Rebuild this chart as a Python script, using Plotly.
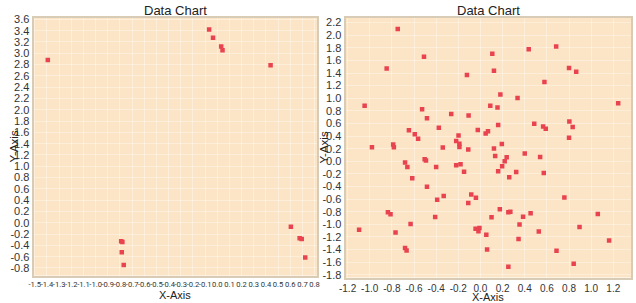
import plotly.graph_objects as go

# Left chart data
left_x = [-1.393, -0.067, -0.035, 0.032, 0.043, 0.438,
          -0.79, -0.78, -0.785, -0.769, 0.605, 0.677, 0.694, 0.723]
left_y = [2.879, 3.419, 3.276, 3.121, 3.052, 2.787,
          -0.328, -0.34, -0.523, -0.747, -0.069, -0.276, -0.287, -0.615]

# Right chart data
right_x = [-0.747, -0.847, -0.51, -1.046, -0.98, -0.788, -0.782, -0.527, -0.483, -0.646,
           -0.593, -0.563, -0.376, -0.34, -0.264, -0.219, -0.198, -0.19, -0.19, -0.11,
           -0.122, -0.107, -0.024, 0.047, 0.068, 0.089, 0.107, 0.122, 0.122, 0.154,
           0.16, 0.18, 0.193, 0.335, 0.436, 0.486, 0.566, 0.59, 0.578, 0.684,
           0.80, 0.865, 0.803, 0.833, 0.80, 1.244,
           0.133, 0.237, 0.40, 0.539, -0.681, -0.66, -0.616, -0.504, -0.492, -0.40,
           -0.483, -0.332, -0.391, -0.219, -0.18, -0.148, -0.083, -0.041, -0.11, 0.219,
           0.196, 0.16, 0.26, 0.323, 0.572, 0.758, 0.175, 0.252, 0.27, 0.10,
           0.353, 0.385, 0.453, -0.836, -0.812, -0.409, -1.096, -0.767, -0.631, -0.044,
           -0.009, -0.018, 0.053, 0.06, -0.681, -0.667, 0.252, 0.344, 0.527, 0.687,
           0.842, 0.895, 1.06, 1.162]
right_y = [2.098, 1.473, 1.659, 0.879, 0.222, 0.264, 0.222, 0.827, 0.682, 0.491,
           0.429, 0.357, 0.532, 0.217, 0.749, 0.321, 0.408, 0.279, 0.228, 0.186,
           1.369, 0.724, 0.496, 0.439, 0.476, 0.879, 1.705, 1.437, 0.202, 0.853,
           0.574, 1.059, 0.274, 1.003, 1.778, 0.594, 0.553, 0.517, 1.256, 1.819,
           1.478, 1.421, 0.631, 0.543, 0.372, 0.919,
           0.082, 0.062, 0.124, 0.067, -0.02, -0.093, -0.269, 0.031, 0.01, -0.093,
           -0.403, -0.553, -0.61, -0.062, -0.047, -0.165, -0.527, -0.579, -0.661, 0.0,
           -0.078, -0.16, -0.253, -0.171, -0.186, -0.574, -0.76, -0.811, -0.801, -0.889,
           -1.003, -0.879, -0.827, -0.811, -0.842, -0.884, -1.085, -1.132, -0.997, -1.07,
           -1.059, -1.111, -1.167, -1.40, -1.375, -1.416, -1.674, -1.235, -1.116, -1.421,
           -1.628, -1.044, -0.837, -1.256]

left_xticks = [round(-1.5 + 0.1 * i, 1) for i in range(24)]
left_yticks = [round(-0.8 + 0.2 * i, 1) for i in range(23)]
right_xticks = [round(-1.2 + 0.2 * i, 1) for i in range(13)]
right_yticks = [round(-1.8 + 0.2 * i, 1) for i in range(21)]

W, H = 636, 303
FONT = "Liberation Sans, Arial, sans-serif"
SMALL = "Roboto, Liberation Sans, sans-serif"
BG = "#FCE5C6"
FRAME = "#D9CCB7"
GRID = "rgba(255,255,255,0.35)"
MARK = "#E8434F"

fig = go.Figure()
fig.add_trace(go.Scatter(x=left_x, y=left_y, mode="markers", xaxis="x", yaxis="y",
                         marker=dict(symbol="square", size=4.5, color=MARK,
                                     line=dict(width=0)), showlegend=False))
fig.add_trace(go.Scatter(x=right_x, y=right_y, mode="markers", xaxis="x2", yaxis="y2",
                         marker=dict(symbol="square", size=4.5, color=MARK,
                                     line=dict(width=0)), showlegend=False))

def px_x(p):
    return p / W

def px_y(p):
    return 1 - p / H

common = dict(showline=True, linecolor=FRAME, linewidth=2, mirror=True,
              showgrid=True, gridcolor=GRID, gridwidth=1, zeroline=False,
              ticks="", tickangle=0, tickfont=dict(family=FONT, size=11, color="#333333"))

fig.update_layout(
    width=W, height=H,
    margin=dict(l=0, r=0, t=0, b=0),
    paper_bgcolor="white",
    plot_bgcolor=BG,
    font=dict(family=FONT, color="#222222"),
    xaxis=dict(domain=[px_x(27), px_x(315)], range=[-1.51, 0.82], tickmode="array",
               tickvals=left_xticks, ticktext=[f"{v:.1f}" for v in left_xticks],
               anchor="y", **{**common, "tickfont": dict(family=SMALL, size=7.6, color="#333333")}),
    yaxis=dict(domain=[px_y(278), px_y(14)], range=[-0.935, 3.63], tickmode="array",
               tickvals=left_yticks, ticktext=[f"{v:.1f}" for v in left_yticks],
               anchor="x", **common),
    xaxis2=dict(domain=[px_x(344), px_x(634)], range=[-1.218, 1.36], tickmode="array",
                tickvals=right_xticks, ticktext=[f"{v:.1f}" for v in right_xticks],
                anchor="y2", **{**common, "tickfont": dict(family=FONT, size=10, color="#333333")}),
    yaxis2=dict(domain=[px_y(280), px_y(14)], range=[-1.845, 2.278], tickmode="array",
                tickvals=right_yticks, ticktext=[f"{v:.1f}" for v in right_yticks],
                anchor="x2", **common),
)

ann = [
    dict(text="Data Chart", x=px_x(171), y=px_y(7), font=dict(size=13)),
    dict(text="Data Chart", x=px_x(489), y=px_y(7), font=dict(size=13)),
    dict(text="X-Axis", x=px_x(171), y=px_y(297.5), font=dict(size=11)),
    dict(text="X-Axis", x=px_x(489), y=px_y(300), font=dict(size=11)),
    dict(text="Y-Axis", x=px_x(7), y=px_y(146), font=dict(size=11.5), textangle=-90),
    dict(text="Y-Axis", x=px_x(322), y=px_y(147), font=dict(size=11.5), textangle=-90),
]
for a in ann:
    fig.add_annotation(xref="paper", yref="paper", xanchor="center", yanchor="middle",
                       showarrow=False, x=a["x"], y=a["y"], text=a["text"],
                       textangle=a.get("textangle", 0),
                       font=dict(family=FONT, color="#222222", **a["font"]))

fig.write_html("out.html", config={"displayModeBar": False},
               post_script="document.body.style.margin='0';document.body.style.overflow='hidden';")
